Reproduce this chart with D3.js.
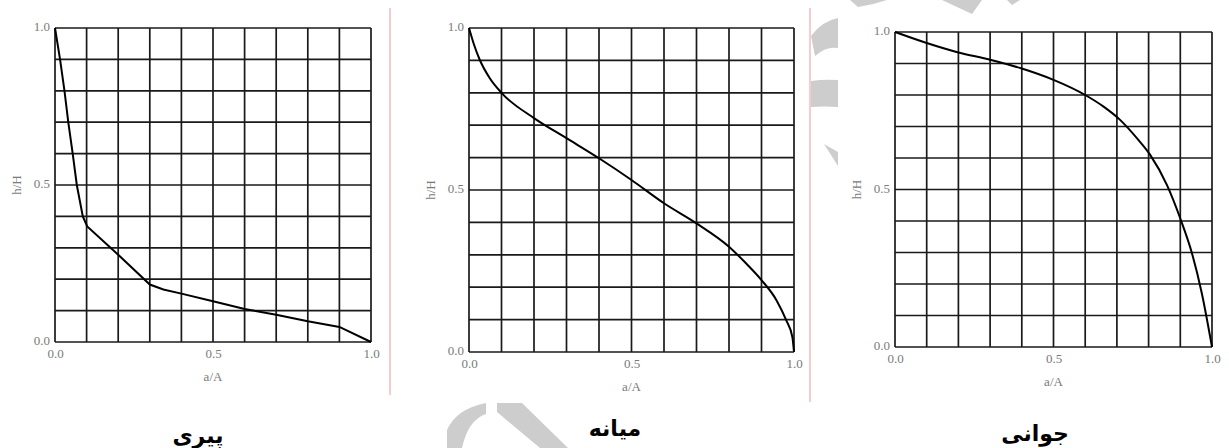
<!DOCTYPE html>
<html>
<head>
<meta charset="utf-8">
<script src="https://cdn.jsdelivr.net/npm/d3@7"></script>
<style>
  body { margin: 0; background: #fff; }
  .tick text { font-family: "Liberation Serif", "DejaVu Serif", serif; fill: #7a7a7a; }
  .axis-label { font-family: "Liberation Serif", serif; font-size: 13px; fill: #7a7a7a; }
  .panel-title { font-family: "DejaVu Sans", sans-serif; font-size: 22px; font-weight: bold; fill: #000; }
</style>
</head>
<body>
<svg id="chart" width="1229" height="448"></svg>
<script>
// hypsometric curves, [a/A, h/H]

const oldAge = [
  [0, 1], [0.016, 0.9], [0.03, 0.8], [0.042, 0.7], [0.056, 0.6], [0.069, 0.5],
  [0.088, 0.4], [0.102, 0.368], [0.2, 0.278], [0.3, 0.183], [0.343, 0.167],
  [0.4, 0.154], [0.5, 0.13], [0.6, 0.105], [0.7, 0.087], [0.8, 0.066],
  [0.9, 0.048], [1, 0]
];

const mature = [
  [0, 1], [0.015, 0.95], [0.033, 0.902], [0.064, 0.845], [0.1, 0.8], [0.2, 0.722],
  [0.3, 0.66], [0.4, 0.598], [0.5, 0.531], [0.6, 0.459], [0.7, 0.397],
  [0.8, 0.325], [0.853, 0.273], [0.9, 0.222], [0.946, 0.16], [0.976, 0.098],
  [0.995, 0.046], [1, 0]
];

const youth = [
  [0, 1], [0.1, 0.965], [0.2, 0.935], [0.3, 0.912], [0.4, 0.884], [0.5, 0.848],
  [0.6, 0.8], [0.658, 0.763], [0.71, 0.721], [0.763, 0.663], [0.805, 0.61],
  [0.858, 0.514], [0.9, 0.408], [0.937, 0.297], [0.968, 0.17], [1, 0]
];

const titles = ['پیری', 'میانه', 'جوانی'];
const tickLabels = [0, 0.5, 1];
const xLabel = 'a/A';
const yLabel = 'h/H';

// layout of each panel on the page
const panels = [
  { data: oldAge, title: titles[0], left: 55,  top: 28, w: 316, h: 314, titleX: 198, titleY: 443, sep: 390, sepEnd: 395, curve: d3.curveLinear },
  { data: mature, title: titles[1], left: 469, top: 28, w: 325, h: 324, titleX: 615, titleY: 436, sep: 810, sepEnd: 402, curve: d3.curveMonotoneX },
  { data: youth,  title: titles[2], left: 895, top: 32, w: 317, h: 315, titleX: 1035, titleY: 441, curve: d3.curveMonotoneX }
];

const svg = d3.select('#chart');

// faint watermark shapes behind everything
const wm = svg.append('g').attr('fill', '#cdcdcd');
wm.append('path').attr('d', 'M811,36 Q822,21 838,18 L838,48 Q826,46 815,56 Z');
wm.append('path').attr('d', 'M811,81 Q824,79 838,80 L838,107 Q824,106 811,107 Z');
wm.append('path').attr('d', 'M824,144 L838,152 L838,166 Z');
wm.append('path').attr('d', 'M850,0 L887,0 Q872,5 858,7 Z');
wm.append('path').attr('d', 'M942,0 L982,0 L972,14 Z');
wm.append('path').attr('d', 'M1007,0 L1020,0 L1012,5 Z');
wm.append('path').attr('d', 'M447,430 Q456,409 486,403 L486,414 Q468,420 462,448 L447,448 Z');
wm.append('path').attr('d', 'M497,403 L522,403 L568,448 L540,448 L497,412 Z');

panels.forEach(p => {
  const x = d3.scaleLinear().domain([0, 1]).range([0, p.w]);
  const y = d3.scaleLinear().domain([0, 1]).range([p.h, 0]);

  const g = svg.append('g').attr('transform', `translate(${p.left},${p.top})`);

  // 10 x 10 grid
  g.append('g').selectAll('line').data(x.ticks(10)).join('line')
    .attr('x1', d => x(d)).attr('x2', d => x(d))
    .attr('y1', 0).attr('y2', p.h)
    .attr('stroke', '#1a1a1a').attr('stroke-width', 1.7);
  g.append('g').selectAll('line').data(y.ticks(10)).join('line')
    .attr('y1', d => y(d)).attr('y2', d => y(d))
    .attr('x1', 0).attr('x2', p.w)
    .attr('stroke', '#1a1a1a').attr('stroke-width', 1.7);

  // axes, labels only
  const xa = g.append('g').attr('transform', `translate(0,${p.h})`)
    .call(d3.axisBottom(x).tickValues(tickLabels).tickFormat(d3.format('.1f')).tickSize(0).tickPadding(7));
  const ya = g.append('g')
    .call(d3.axisLeft(y).tickValues(tickLabels).tickFormat(d3.format('.1f')).tickSize(0).tickPadding(5));
  [xa, ya].forEach(a => {
    a.select('.domain').remove();
    a.selectAll('text').attr('font-size', 13);
  });
  ya.selectAll('text').attr('dy', '0.2em');

  g.append('text')
    .attr('class', 'axis-label')
    .attr('x', p.w / 2)
    .attr('y', p.h + 39)
    .attr('text-anchor', 'middle')
    .text(xLabel);

  g.append('text')
    .attr('class', 'axis-label')
    .attr('transform', 'rotate(-90)')
    .attr('x', -p.h / 2)
    .attr('y', -34)
    .attr('text-anchor', 'middle')
    .text(yLabel);

  const line = d3.line()
    .x(d => x(d[0]))
    .y(d => y(d[1]))
    .curve(p.curve);

  g.append('path')
    .datum(p.data)
    .attr('d', line)
    .attr('fill', 'none')
    .attr('stroke', '#000')
    .attr('stroke-width', 2);

  svg.append('text')
    .attr('class', 'panel-title')
    .attr('x', p.titleX)
    .attr('y', p.titleY)
    .attr('text-anchor', 'middle')
    .attr('direction', 'rtl')
    .text(p.title);

  if (p.sep) {
    svg.append('line')
      .attr('x1', p.sep).attr('x2', p.sep)
      .attr('y1', 8).attr('y2', p.sepEnd)
      .attr('stroke', '#f29a9a').attr('stroke-width', 1);
  }
});
</script>
</body>
</html>
